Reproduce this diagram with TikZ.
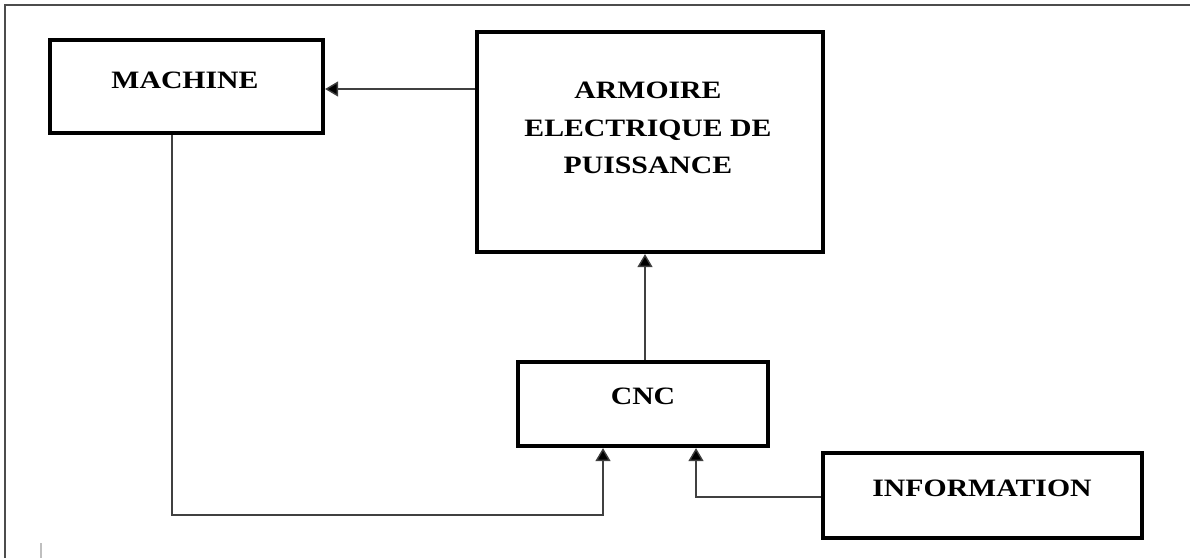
\documentclass[tikz,border=0pt]{standalone}
\usepackage{fontspec}
\setmainfont{Liberation Serif}[FakeStretch=1.19]
\usetikzlibrary{arrows.meta}
\begin{document}
\begin{tikzpicture}[x=1pt,y=-1pt,
  blockbox/.style={draw=black,line width=4.2pt,inner sep=0pt},
  lbl/.style={font=\fontsize{25}{37.5}\selectfont\bfseries,align=center,text=black},
  conn/.style={draw=black!75,line width=1.4pt},
  arr/.style={conn,-{Triangle[length=13pt,width=15pt,fill=black]}},
  frame/.style={draw=black!70,line width=1.6pt}]
\useasboundingbox (0,0) rectangle (1190,558);
% outer frame
\coordinate (fl) at (5,558);
\coordinate (fc) at (5,5);
\coordinate (fr) at (1190,5);
\draw[frame] (fl) -- (fc) -- (fr);
\coordinate (m1) at (41,543);
\coordinate (m2) at (41,558);
\draw[draw=black!25,line width=2pt] (m1) -- (m2);
% boxes
\node[blockbox,minimum width=273pt,minimum height=93pt] (mach) at (186.5,86.5) {};
\node[lbl] (machT) at (185,80) {MACHINE};
\node[blockbox,minimum width=346pt,minimum height=220pt] (arm) at (650,142) {};
\node[lbl] (armT) at (648,128) {ARMOIRE\\ELECTRIQUE DE\\PUISSANCE};
\node[blockbox,minimum width=250pt,minimum height=84pt] (cnc) at (643,404) {};
\node[lbl] (cncT) at (643,396) {CNC};
\node[blockbox,minimum width=319pt,minimum height=85pt] (info) at (982.5,495.5) {};
\node[lbl] (infoT) at (982,488) {INFORMATION};
% connectors
\draw[arr] (arm.west |- 0,89) -- (mach.east |- 0,89);
\draw[arr] (cnc.north -| 645,0) -- (arm.south -| 645,0);
\coordinate (c1) at (172,515);
\coordinate (c2) at (603,515);
\draw[arr] (mach.south -| c1) -- (c1) -- (c2) -- (cnc.south -| c2);
\coordinate (c3) at (696,497);
\draw[arr] (info.west |- c3) -- (c3) -- (cnc.south -| c3);
\end{tikzpicture}
\end{document}
